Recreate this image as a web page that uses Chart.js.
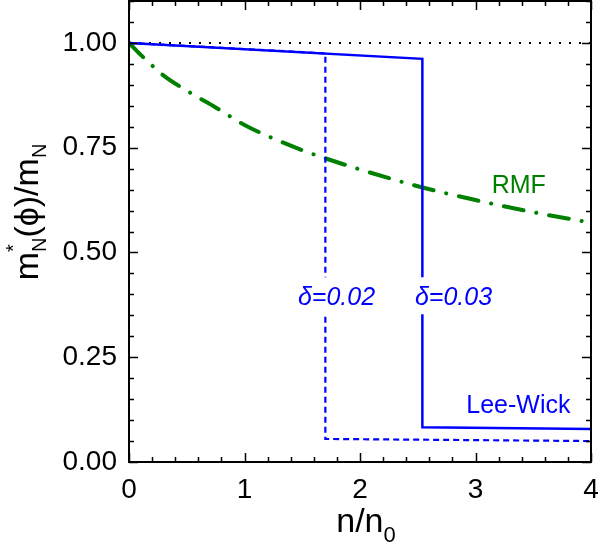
<!DOCTYPE html>
<html>
<head>
<meta charset="utf-8">
<script src="https://cdn.jsdelivr.net/npm/chart.js@4.4.0/dist/chart.umd.min.js"></script>
<style>
  html, body { margin: 0; padding: 0; background: #fff; }
  #wrap { width: 600px; height: 546px; }
</style>
</head>
<body>
<div id="wrap"><canvas id="grafico"></canvas></div>
<script>
// curvas: massa efetiva m*/m em funcao de n/n0
const rmfX = [0, 0.1, 0.2, 0.3, 0.5, 0.75, 1.0, 1.25, 1.5, 1.75, 2.0, 2.5, 3.0, 3.5, 4.0];
const rmfY = [1.0, 0.972, 0.946, 0.922, 0.886, 0.846, 0.804, 0.772, 0.744, 0.720, 0.698, 0.658, 0.625, 0.596, 0.571];
const lw03X = [0, 2.54, 2.54, 4.0];
const lw03Y = [1.0, 0.962, 0.083, 0.079];
const lw02X = [0, 1.70, 1.70, 4.0];
const lw02Y = [1.0, 0.975, 0.055, 0.050];
const refX = [0, 4];
const refY = [1, 1];
const xTicks = [0, 1, 2, 3, 4];
const yTicks = [0, 0.25, 0.5, 0.75, 1.0];
const xRange = [0, 4];
const yRange = [0, 1.1];

const pts = (xs, ys) => xs.map((x, i) => ({ x: x, y: ys[i] }));
const FONT = '"Liberation Sans", Arial, sans-serif';
const BLUE = '#0000ff';
const GREEN = '#008000';

// moldura, ticks para dentro nos 4 lados, titulos e rotulos
const framePlugin = {
  id: 'frame',
  afterDraw(chart) {
    const { ctx, chartArea: a, scales } = chart;
    const sx = scales.x, sy = scales.y;
    ctx.save();
    ctx.strokeStyle = '#000';
    ctx.lineWidth = 1.5;
    ctx.beginPath();
    for (let v = xRange[0]; v <= xRange[1] + 1e-9; v += 0.2) {
      const major = Math.abs(v - Math.round(v)) < 1e-6;
      const len = major ? 9 : 5;
      const px = Math.round(sx.getPixelForValue(v)) + 0.5;
      ctx.moveTo(px, a.bottom); ctx.lineTo(px, a.bottom - len);
      ctx.moveTo(px, a.top); ctx.lineTo(px, a.top + len);
    }
    for (let v = yRange[0]; v <= yRange[1] + 1e-9; v += 0.05) {
      const major = Math.abs(v / 0.25 - Math.round(v / 0.25)) < 1e-6;
      const len = major ? 9 : 5;
      const py = Math.round(sy.getPixelForValue(v)) + 0.5;
      ctx.moveTo(a.left, py); ctx.lineTo(a.left + len, py);
      ctx.moveTo(a.right, py); ctx.lineTo(a.right - len, py);
    }
    ctx.stroke();
    ctx.lineWidth = 2;
    ctx.strokeRect(a.left, a.top, a.right - a.left, a.bottom - a.top);

    // rotulos das curvas
    const label = (txt, x, y, color, italic, box) => {
      ctx.font = (italic ? 'italic ' : '') + '25px ' + FONT;
      const px = sx.getPixelForValue(x), py = sy.getPixelForValue(y);
      const w = ctx.measureText(txt).width;
      if (box) {
        ctx.fillStyle = '#fff';
        ctx.fillRect(px - 1, py - 28, w + 2, 37);
      }
      ctx.fillStyle = color;
      ctx.textAlign = 'left';
      ctx.textBaseline = 'alphabetic';
      ctx.fillText(txt, px, py);
    };
    label('RMF', 3.14, 0.643, GREEN, false, false);
    label('Lee-Wick', 2.92, 0.117, BLUE, false, false);
    label('\u03b4=0.02', 1.463, 0.374, BLUE, true, true);
    label('\u03b4=0.03', 2.476, 0.374, BLUE, true, true);

    // titulo do eixo x: n/n0
    ctx.fillStyle = '#000';
    ctx.textBaseline = 'alphabetic';
    ctx.font = '34px ' + FONT;
    const main = 'n/n';
    const wMain = ctx.measureText(main).width;
    ctx.font = '22px ' + FONT;
    const wSub = ctx.measureText('0').width;
    const cx = (a.left + a.right) / 2 + 6;
    let x0 = cx - (wMain + wSub) / 2;
    ctx.font = '34px ' + FONT;
    ctx.fillText(main, x0, 532);
    ctx.font = '22px ' + FONT;
    ctx.fillText('0', x0 + wMain, 542);

    // titulo do eixo y: m*_N(phi)/m_N
    ctx.translate(38, 212);
    ctx.rotate(-Math.PI / 2);
    const big = '34px ' + FONT, small = '20px ' + FONT;
    ctx.font = big; const wm = ctx.measureText('m').width;
    const wmid = ctx.measureText('(\u03d5)/m').width;
    ctx.font = small; const wn = ctx.measureText('N').width;
    const total = wm + wn + wmid + wn;
    let t = -total / 2;
    ctx.font = big; ctx.fillText('m', t, 0); t += wm;
    ctx.font = small;
    ctx.fillText('N', t, 8);
    ctx.fillText('*', t, -18);
    t += wn;
    ctx.font = big; ctx.fillText('(\u03d5)/m', t, 0); t += wmid;
    ctx.font = small; ctx.fillText('N', t, 8);
    ctx.restore();
  }
};

new Chart(document.getElementById('grafico'), {
  type: 'line',
  data: {
    datasets: [
      {
        label: 'ref',
        data: pts(refX, refY),
        borderColor: '#000',
        borderWidth: 2,
        borderDash: [2, 8],
        order: 4
      },
      {
        label: 'RMF',
        data: pts(rmfX, rmfY),
        borderColor: GREEN,
        borderWidth: 4,
        borderDash: [20, 13, 0.1, 13],
        borderCapStyle: 'round',
        cubicInterpolationMode: 'monotone',
        order: 3
      },
      {
        label: 'delta 0.02',
        data: pts(lw02X, lw02Y),
        borderColor: BLUE,
        borderWidth: 2.2,
        borderDash: [6, 4],
        order: 2
      },
      {
        label: 'delta 0.03',
        data: pts(lw03X, lw03Y),
        borderColor: BLUE,
        borderWidth: 2.5,
        order: 1
      }
    ]
  },
  options: {
    responsive: true,
    maintainAspectRatio: false,
    animation: false,
    layout: { padding: { top: 1, right: 9, left: 0, bottom: 0 } },
    elements: { point: { radius: 0 }, line: { tension: 0, fill: false } },
    plugins: { legend: { display: false }, tooltip: { enabled: false } },
    scales: {
      x: {
        type: 'linear',
        min: xRange[0],
        max: xRange[1],
        grid: { display: false, drawTicks: false },
        border: { display: false },
        afterBuildTicks: s => { s.ticks = xTicks.map(v => ({ value: v })); },
        afterFit: s => { s.height = 84; s.paddingLeft = 0; s.paddingRight = 0; },
        ticks: {
          padding: 11,
          color: '#000',
          font: { family: FONT, size: 28 },
          maxRotation: 0,
          autoSkip: false,
          callback: v => String(v)
        }
      },
      y: {
        type: 'linear',
        min: yRange[0],
        max: yRange[1],
        grid: { display: false, drawTicks: false },
        border: { display: false },
        afterBuildTicks: s => { s.ticks = yTicks.map(v => ({ value: v })); },
        afterFit: s => { s.width = 129; s.paddingTop = 0; s.paddingBottom = 0; },
        ticks: {
          padding: 12,
          color: '#000',
          font: { family: FONT, size: 28 },
          autoSkip: false,
          callback: v => Number(v).toFixed(2)
        }
      }
    }
  },
  plugins: [framePlugin]
});
</script>
</body>
</html>
